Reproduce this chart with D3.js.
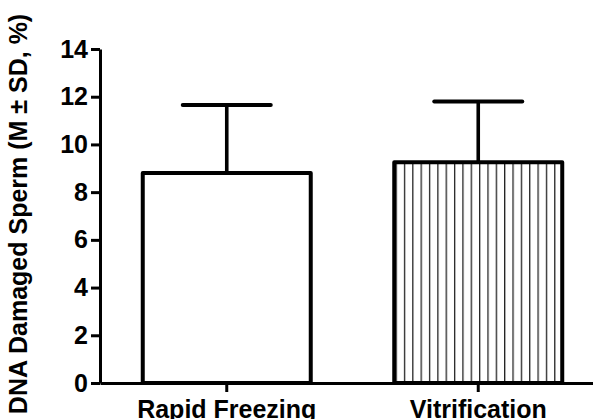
<!DOCTYPE html>
<html>
<head>
<meta charset="utf-8">
<script src="https://cdn.jsdelivr.net/npm/d3@7"></script>
<style>
  body { margin: 0; background: #fff; }
  text { font-family: "Liberation Sans", Arial, sans-serif; font-weight: bold; }
</style>
</head>
<body>
<div id="chart"></div>
<script>
// data
var groups = ['Rapid Freezing', 'Vitrification'];
var means = [8.8, 9.25];
var sds = [2.85, 2.55];
var yTicks = [0, 2, 4, 6, 8, 10, 12, 14];

var width = 593,
	height = 419;

var svg = d3.select('#chart')
			.append('svg')
			.attr('width', width)
			.attr('height', height);

// hatch pattern for second bar
var defs = svg.append('defs');
defs.append('pattern')
	.attr('id', 'vhatch')
	.attr('patternUnits', 'userSpaceOnUse')
	.attr('x', 395.5)
	.attr('width', 8.35)
	.attr('height', 10)
	.append('line')
	.attr('x1', 0).attr('x2', 0)
	.attr('y1', 0).attr('y2', 10)
	.attr('stroke', '#222')
	.attr('stroke-width', 2.6);

// scales
var x = d3.scaleBand()
		.domain(groups)
		.range([100, 605])
		.paddingInner(0.332)
		.paddingOuter(0.17);

var y = d3.scaleLinear()
		.domain([0, 14])
		.range([383, 49]);

var fills = ['#fff', 'url(#vhatch)'];

// bars
svg.append('g')
	.selectAll('rect')
	.data(groups).enter()
	.append('rect')
	.attr('x', d => x(d))
	.attr('y', (d, i) => y(means[i]))
	.attr('width', x.bandwidth())
	.attr('height', (d, i) => y(0) - y(means[i]))
	.attr('fill', (d, i) => fills[i])
	.attr('stroke', '#000')
	.attr('stroke-width', 4)
	.attr('stroke-linejoin', 'round');

// error bars
var err = svg.append('g')
	.selectAll('g')
	.data(groups).enter()
	.append('g');

err.append('line')
	.attr('x1', d => x(d) + x.bandwidth() / 2)
	.attr('x2', d => x(d) + x.bandwidth() / 2)
	.attr('y1', (d, i) => y(means[i]))
	.attr('y2', (d, i) => y(means[i] + sds[i]))
	.attr('stroke', '#000')
	.attr('stroke-width', 3.6);

err.append('line')
	.attr('x1', d => x(d) + x.bandwidth() / 2 - 44)
	.attr('x2', d => x(d) + x.bandwidth() / 2 + 44)
	.attr('y1', (d, i) => y(means[i] + sds[i]))
	.attr('y2', (d, i) => y(means[i] + sds[i]))
	.attr('stroke', '#000')
	.attr('stroke-width', 4)
	.attr('stroke-linecap', 'round');

// axes
var yAxis = svg.append('g')
	.attr('transform', 'translate(100,0)')
	.call(d3.axisLeft(y).tickValues(yTicks).tickSize(9).tickSizeOuter(0).tickPadding(3));

var xAxis = svg.append('g')
	.attr('transform', 'translate(0,383)')
	.call(d3.axisBottom(x).tickSize(9).tickSizeOuter(0).tickPadding(8));

[yAxis, xAxis].forEach(function(a) {
	a.select('.domain').attr('stroke', '#000').attr('stroke-width', 3);
	a.selectAll('.tick line').attr('stroke', '#000').attr('stroke-width', 3);
	a.selectAll('.tick text')
		.attr('fill', '#000')
		.style('font-size', '25px')
		.style('font-family', '"Liberation Sans", Arial, sans-serif')
		.style('font-weight', 'bold');
});

// y axis title
svg.append('text')
	.attr('transform', 'translate(27,214) rotate(-90)')
	.attr('text-anchor', 'middle')
	.style('font-size', '25px')
	.text('DNA Damaged Sperm (M \u00B1 SD, %)');
</script>
</body>
</html>
